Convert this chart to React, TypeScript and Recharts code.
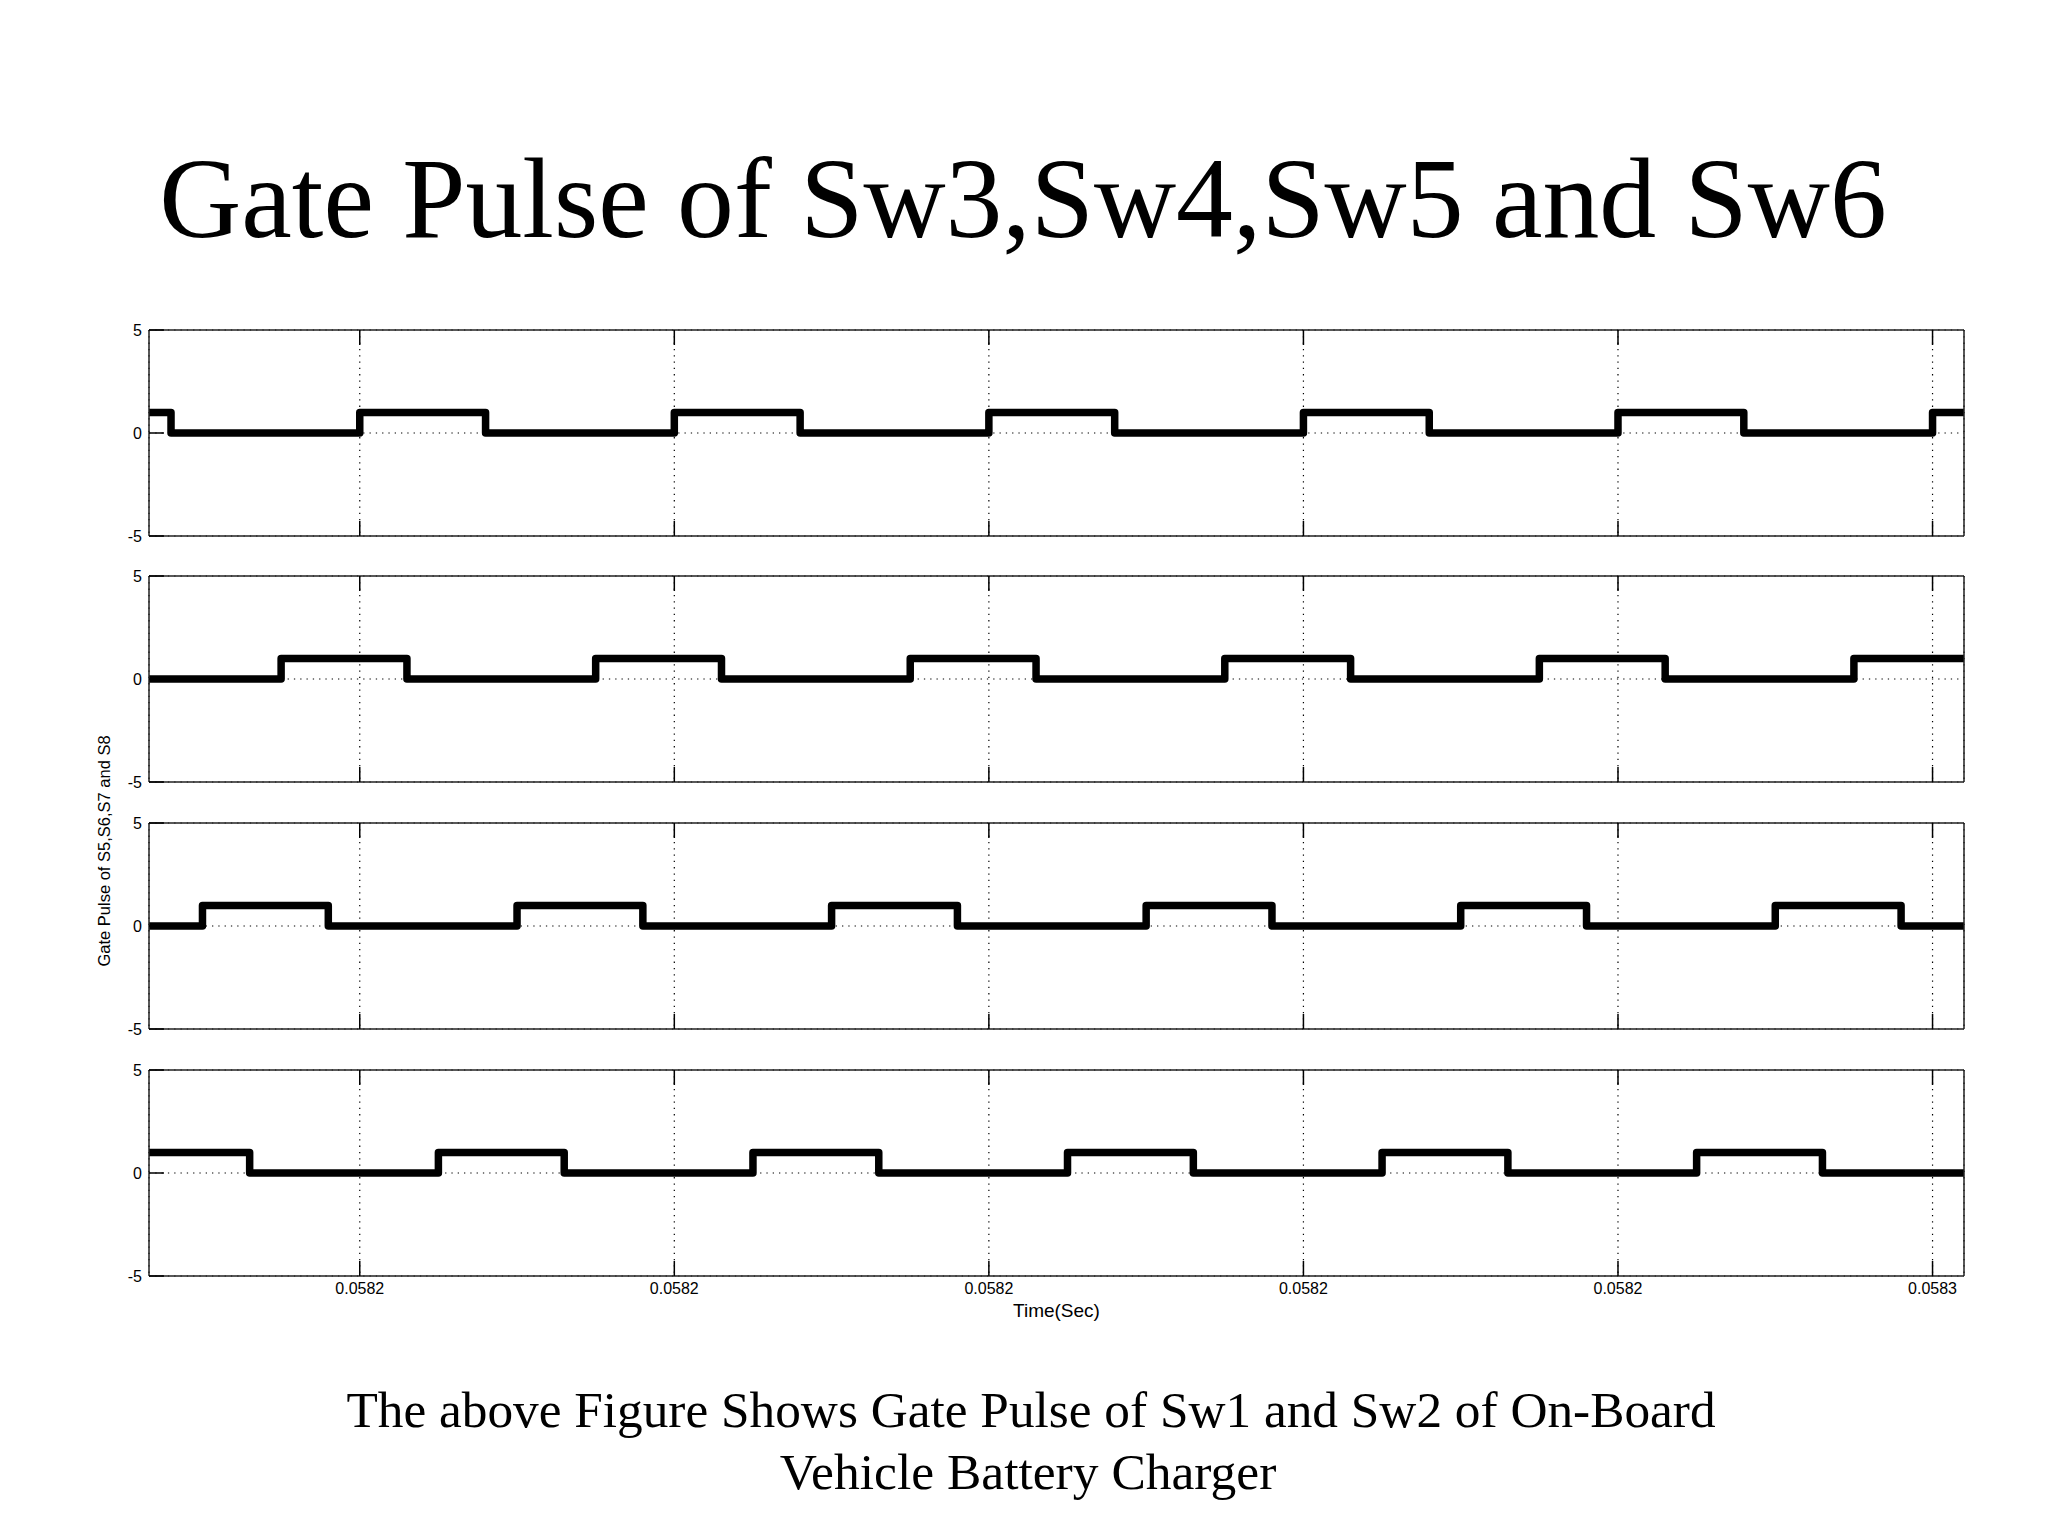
import { useMemo } from "react";
import { CartesianGrid, Label, Line, LineChart, XAxis, YAxis } from "recharts";

// time axis (s): tick positions and the labels MATLAB printed for them
const xTicks = [0.05821, 0.05822, 0.05823, 0.05824, 0.05825, 0.05826];
const xTickLabels = ["0.0582", "0.0582", "0.0582", "0.0582", "0.0582", "0.0583"];
const xDomain = [0.0582033, 0.058261];
const yTicks = [-5, 0, 5];

// gate signals as edge times (s) and the level held after each edge
const sw3Time = [0.0582033, 0.058204, 0.05821, 0.058214, 0.05822, 0.058224, 0.05823, 0.058234, 0.05824, 0.058244, 0.05825, 0.058254, 0.05826, 0.058261];
const sw3Gate = [1, 0, 1, 0, 1, 0, 1, 0, 1, 0, 1, 0, 1, 1];

const sw4Time = [0.0582033, 0.0582075, 0.0582115, 0.0582175, 0.0582215, 0.0582275, 0.0582315, 0.0582375, 0.0582415, 0.0582475, 0.0582515, 0.0582575, 0.058261];
const sw4Gate = [0, 1, 0, 1, 0, 1, 0, 1, 0, 1, 0, 1, 1];

const sw5Time = [0.0582033, 0.058205, 0.058209, 0.058215, 0.058219, 0.058225, 0.058229, 0.058235, 0.058239, 0.058245, 0.058249, 0.058255, 0.058259, 0.058261];
const sw5Gate = [0, 1, 0, 1, 0, 1, 0, 1, 0, 1, 0, 1, 0, 0];

const sw6Time = [0.0582033, 0.0582065, 0.0582125, 0.0582165, 0.0582225, 0.0582265, 0.0582325, 0.0582365, 0.0582425, 0.0582465, 0.0582525, 0.0582565, 0.058261];
const sw6Gate = [1, 0, 1, 0, 1, 0, 1, 0, 1, 0, 1, 0, 0];

const SANS = '"Liberation Sans", Arial, Helvetica, sans-serif';
const SERIF = '"Liberation Serif", "Times New Roman", serif';

const PAGE_W = 2048;
const PLOT_LEFT = 149;
const PLOT_RIGHT = 1964;
const PLOT_H = 206;
const Y_AXIS_W = 40;
const MARGIN_TOP = 12;

const panelTops = [330, 576, 823, 1070];

// keeps the ticks (and so the grid) while printing no label
const noLabel = () => <g />;

function GatePanel({
  time,
  gate,
  top,
  showTime,
}: {
  time: number[];
  gate: number[];
  top: number;
  showTime: boolean;
}) {
  const data = useMemo(() => time.map((t, i) => ({ t, v: gate[i] })), [time, gate]);
  const bottomH = showTime ? 45 : 1;
  const marginBottom = showTime ? 0 : 12;
  const height = MARGIN_TOP + 1 + PLOT_H + bottomH + marginBottom;

  return (
    <div style={{ position: "absolute", left: 0, top: top - MARGIN_TOP - 1 }}>
      <LineChart
        width={PAGE_W}
        height={height}
        data={data}
        margin={{ top: MARGIN_TOP, right: PAGE_W - PLOT_RIGHT - 1, bottom: marginBottom, left: PLOT_LEFT - Y_AXIS_W }}
      >
        <CartesianGrid stroke="#000" strokeWidth={1.2} strokeDasharray="1.3 5" />
        <XAxis
          dataKey="t"
          type="number"
          domain={xDomain}
          ticks={xTicks}
          interval={0}
          allowDataOverflow
          height={bottomH}
          axisLine={{ stroke: "#222", strokeWidth: 1.5 }}
          tickLine={{ stroke: "#000", strokeWidth: 1.5 }}
          tickSize={-15}
          tickMargin={22}
          tick={showTime ? { fontSize: 16, fill: "#000", fontFamily: SANS } : noLabel}
          tickFormatter={(v: number) => xTickLabels[xTicks.indexOf(v)] ?? ""}
        >
          {showTime && (
            <Label
              value="Time(Sec)"
              position="insideBottom"
              offset={4}
              style={{ fontSize: 19, fill: "#000", fontFamily: SANS }}
            />
          )}
        </XAxis>
        <XAxis
          xAxisId="top"
          orientation="top"
          dataKey="t"
          type="number"
          domain={xDomain}
          ticks={xTicks}
          interval={0}
          allowDataOverflow
          height={1}
          axisLine={{ stroke: "#222", strokeWidth: 1.5 }}
          tickLine={{ stroke: "#000", strokeWidth: 1.5 }}
          tickSize={-15}
          tick={noLabel}
        />
        <YAxis
          type="number"
          domain={[-5, 5]}
          ticks={yTicks}
          interval={0}
          width={Y_AXIS_W}
          axisLine={{ stroke: "#222", strokeWidth: 1.5 }}
          tickLine={{ stroke: "#000", strokeWidth: 1.5 }}
          tickSize={-15}
          tickMargin={22}
          tick={{ fontSize: 16, fill: "#000", fontFamily: SANS }}
        />
        <YAxis
          yAxisId="right"
          orientation="right"
          type="number"
          domain={[-5, 5]}
          ticks={yTicks}
          interval={0}
          width={1}
          axisLine={{ stroke: "#222", strokeWidth: 1.5 }}
          tickLine={{ stroke: "#000", strokeWidth: 1.5 }}
          tickSize={-15}
          tick={noLabel}
        />
        <Line
          type="stepAfter"
          dataKey="v"
          stroke="#000"
          strokeWidth={7.5}
          strokeLinejoin="round"
          dot={false}
          activeDot={false}
          isAnimationActive={false}
        />
      </LineChart>
    </div>
  );
}

export default function App() {
  return (
    <div
      style={{
        position: "absolute",
        left: 0,
        top: 0,
        width: PAGE_W,
        height: 1536,
        background: "#fff",
        overflow: "hidden",
      }}
    >
      <GatePanel time={sw3Time} gate={sw3Gate} top={panelTops[0]} showTime={false} />
      <GatePanel time={sw4Time} gate={sw4Gate} top={panelTops[1]} showTime={false} />
      <GatePanel time={sw5Time} gate={sw5Gate} top={panelTops[2]} showTime={false} />
      <GatePanel time={sw6Time} gate={sw6Gate} top={panelTops[3]} showTime={true} />

      <svg
        width={PAGE_W}
        height={1536}
        style={{ position: "absolute", left: 0, top: 0, pointerEvents: "none" }}
      >
        <text x={1023} y={237} textAnchor="middle" fontFamily={SERIF} fontSize={113.7} fill="#000">
          Gate Pulse of Sw3,Sw4,Sw5 and Sw6
        </text>
        <text
          transform="translate(110, 851) rotate(-90)"
          textAnchor="middle"
          fontFamily={SANS}
          fontSize={16.5}
          fill="#000"
        >
          Gate Pulse of S5,S6,S7 and S8
        </text>
        <text x={1031} y={1427} textAnchor="middle" fontFamily={SERIF} fontSize={51.3} fill="#000">
          The above Figure Shows Gate Pulse of Sw1 and Sw2 of On-Board
        </text>
        <text x={1028} y={1489} textAnchor="middle" fontFamily={SERIF} fontSize={51.5} fill="#000">
          Vehicle Battery Charger
        </text>
      </svg>
    </div>
  );
}
